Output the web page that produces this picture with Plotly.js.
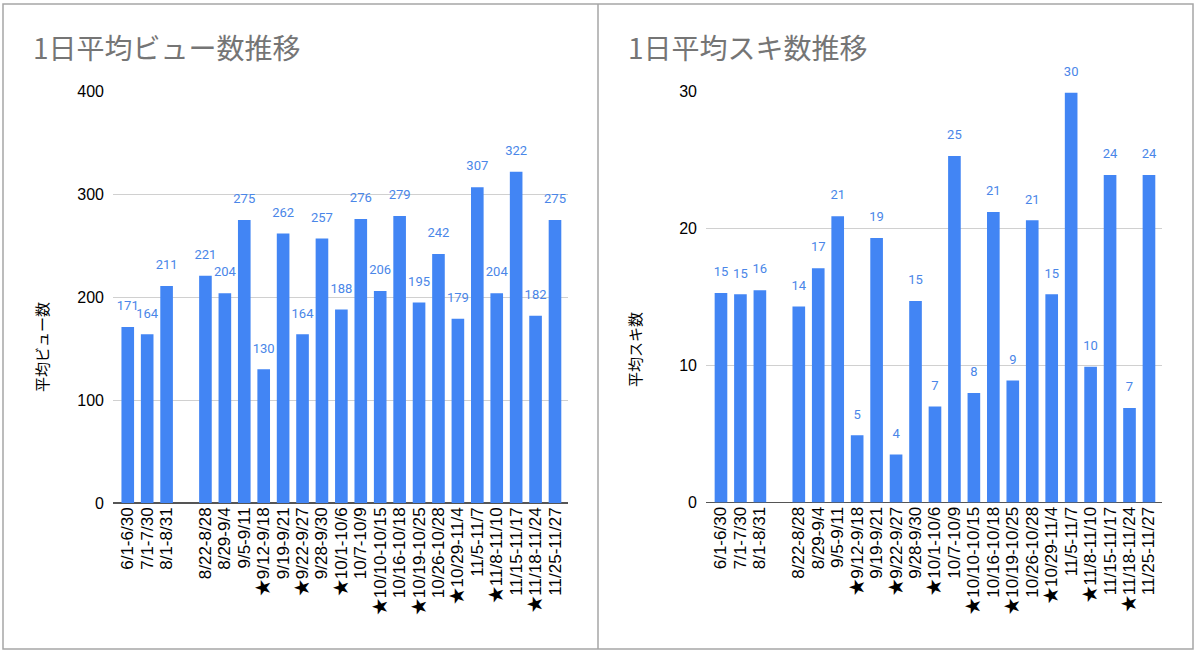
<!DOCTYPE html>
<html>
<head>
<meta charset="utf-8">
<script src="https://cdn.plot.ly/plotly-3.0.1.min.js"></script>
<style>
  html, body { margin: 0; padding: 0; background: #fff; }
  #chart { width: 1200px; height: 658px; }
</style>
</head>
<body>
<div id="chart"></div>
<script>
// periods (blank slot kept where the sheet had an empty row)
const periods = [
  "6/1-6/30", "7/1-7/30", "8/1-8/31", " ",
  "8/22-8/28", "8/29-9/4", "9/5-9/11", "★9/12-9/18", "9/19-9/21",
  "★9/22-9/27", "9/28-9/30", "★10/1-10/6", "10/7-10/9", "★10/10-10/15",
  "10/16-10/18", "★10/19-10/25", "10/26-10/28", "★10/29-11/4", "11/5-11/7",
  "★11/8-11/10", "11/15-11/17", "★11/18-11/24", "11/25-11/27"
];

const avgViews = [
  171, 164, 211, null,
  221, 204, 275, 130, 262,
  164, 257, 188, 276, 206,
  279, 195, 242, 179, 307,
  204, 322, 182, 275
];

const avgLikes = [
  15.3, 15.2, 15.5, null,
  14.3, 17.1, 20.9, 4.9, 19.3,
  3.5, 14.7, 7.0, 25.3, 8.0,
  21.2, 8.9, 20.6, 15.2, 29.9,
  9.9, 23.9, 6.9, 23.9
];

const W = 1200, H = 658;
const px = x => x / W;
const py = y => 1 - y / H;

const barColor = '#4285f4';
const labelFont = { family: 'Roboto, Arial, sans-serif', size: 13, color: '#4a86e8' };
const tickFamily = '"Liberation Sans", "Noto Sans CJK JP", Arial, sans-serif';
const jpFont = '"Noto Sans CJK JP", Roboto, sans-serif';

function barTrace(values, xa, ya) {
  return {
    type: 'bar',
    x: periods,
    y: values,
    xaxis: xa,
    yaxis: ya,
    marker: { color: barColor },
    hoverinfo: 'x+y',
    showlegend: false
  };
}

// value labels sit higher than plotly's own outside text: an invisible marker pushes them up
function labelTrace(values, xa, ya) {
  return {
    type: 'scatter',
    mode: 'markers+text',
    x: periods,
    y: values,
    xaxis: xa,
    yaxis: ya,
    texttemplate: '%{y:.0f}',
    textposition: 'top center',
    textfont: labelFont,
    marker: { size: 20, color: 'rgba(0,0,0,0)' },
    cliponaxis: false,
    hoverinfo: 'skip',
    showlegend: false
  };
}

const xCommon = {
  type: 'category',
  tickmode: 'linear',
  tick0: 0,
  dtick: 1,
  tickangle: -90,
  tickfont: { family: tickFamily, size: 17, color: '#000' },
  showgrid: false,
  ticks: '',
  showline: false,
  fixedrange: true
};
const yCommon = {
  tickfont: { family: tickFamily, size: 16, color: '#000' },
  gridcolor: '#d0d0d0',
  gridwidth: 1,
  zeroline: true,
  zerolinecolor: '#555',
  zerolinewidth: 1.5,
  ticks: '',
  ticklabelstandoff: 8,
  fixedrange: true
};

const layout = {
  width: W,
  height: H,
  margin: { l: 0, r: 0, t: 0, b: 0 },
  paper_bgcolor: '#fff',
  plot_bgcolor: '#fff',
  bargap: 0.35,
  xaxis: Object.assign({}, xCommon, { domain: [px(113), px(568)], range: [-0.76, 22.67], anchor: 'y' }),
  yaxis: Object.assign({}, yCommon, { domain: [py(503), py(91.5)], range: [0, 400], dtick: 100, anchor: 'x' }),
  xaxis2: Object.assign({}, xCommon, { domain: [px(706), px(1162)], range: [-0.77, 22.67], anchor: 'y2' }),
  yaxis2: Object.assign({}, yCommon, { domain: [py(502.5), py(91.5)], range: [0, 30], dtick: 10, anchor: 'x2' }),
  shapes: [
    { type: 'rect', xref: 'paper', yref: 'paper', x0: px(3), x1: px(1193), y0: py(649), y1: py(4),
      line: { color: '#a6a6a6', width: 1.5 } },
    { type: 'line', xref: 'paper', yref: 'paper', x0: px(598), x1: px(598), y0: py(649), y1: py(4),
      line: { color: '#a6a6a6', width: 1.5 } }
  ],
  annotations: [
    { text: '1日平均ビュー数推移', xref: 'paper', yref: 'paper', x: px(31), y: py(47),
      xanchor: 'left', yanchor: 'middle', showarrow: false,
      font: { family: jpFont, size: 28, color: '#757575' } },
    { text: '1日平均スキ数推移', xref: 'paper', yref: 'paper', x: px(626), y: py(47),
      xanchor: 'left', yanchor: 'middle', showarrow: false,
      font: { family: jpFont, size: 28, color: '#757575' } },
    { text: '平均ビュー数', xref: 'paper', yref: 'paper', x: px(41), y: py(347),
      xanchor: 'center', yanchor: 'middle', textangle: -90, showarrow: false,
      font: { family: jpFont, size: 15, color: '#000' } },
    { text: '平均スキ数', xref: 'paper', yref: 'paper', x: px(634), y: py(350),
      xanchor: 'center', yanchor: 'middle', textangle: -90, showarrow: false,
      font: { family: jpFont, size: 15, color: '#000' } }
  ]
};

Plotly.newPlot('chart', [
  barTrace(avgViews, 'x', 'y'),
  barTrace(avgLikes, 'x2', 'y2'),
  labelTrace(avgViews, 'x', 'y'),
  labelTrace(avgLikes, 'x2', 'y2')
], layout, { displayModeBar: false, staticPlot: true });
</script>
</body>
</html>
